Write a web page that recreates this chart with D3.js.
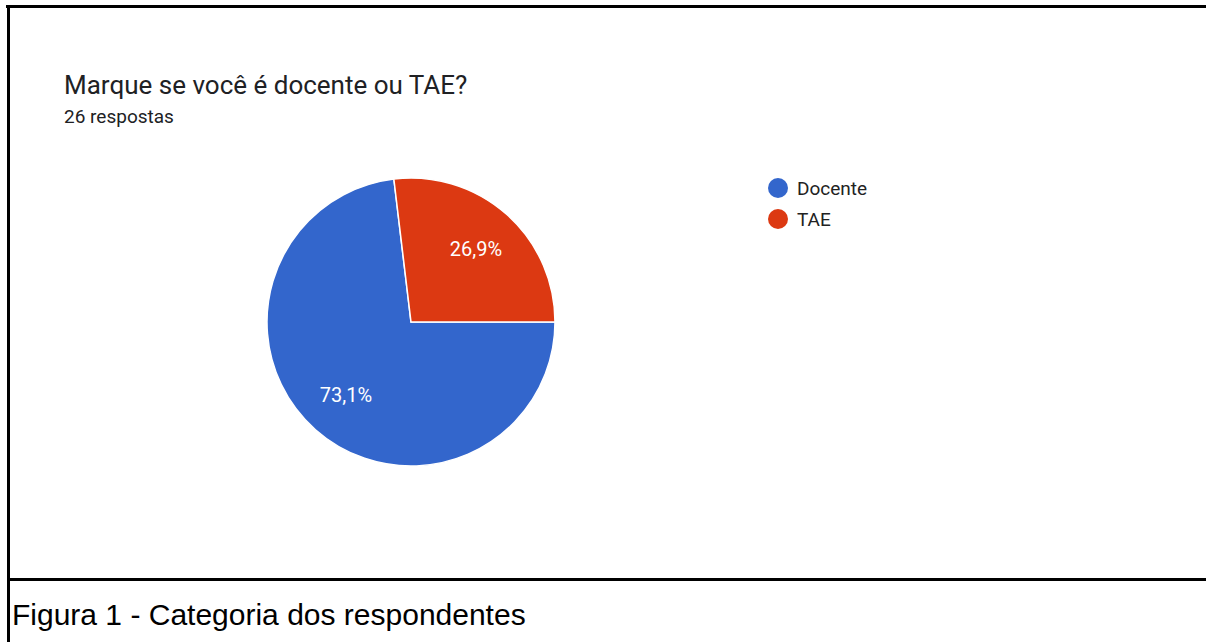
<!DOCTYPE html>
<html>
<head>
<meta charset="utf-8">
<script src="https://cdn.jsdelivr.net/npm/d3@7"></script>
<style>
  body { margin: 0; background: #fff; }
  svg { display: block; }
</style>
</head>
<body>
<svg width="1206" height="642"></svg>
<script>
// dados
var categorias = ["Docente", "TAE"];
var valores = [73.1, 26.9];
var rotulos = ["73,1%", "26,9%"];
var cores = ["#3366cc", "#dc3912"];

var svg = d3.select("svg");

// moldura
svg.append("line").attr("x1", 6).attr("x2", 1206).attr("y1", 6.5).attr("y2", 6.5)
    .attr("stroke", "#000").attr("stroke-width", 3);
svg.append("line").attr("x1", 8.5).attr("x2", 8.5).attr("y1", 5).attr("y2", 642)
    .attr("stroke", "#000").attr("stroke-width", 3);
svg.append("line").attr("x1", 7).attr("x2", 1206).attr("y1", 579.5).attr("y2", 579.5)
    .attr("stroke", "#000").attr("stroke-width", 3);

// titulo
svg.append("text")
    .attr("x", 64).attr("y", 94)
    .attr("font-family", "Roboto")
    .attr("font-size", 26)
    .attr("fill", "#202124")
    .text("Marque se você é docente ou TAE?");

svg.append("text")
    .attr("x", 64).attr("y", 123)
    .attr("font-family", "Roboto")
    .attr("font-size", 19)
    .attr("fill", "#202124")
    .text("26 respostas");

// pizza
var raio = 144;
var g = svg.append("g").attr("transform", "translate(411,322)");

var pie = d3.pie().sort(null)
    .startAngle(Math.PI / 2)
    .endAngle(Math.PI / 2 + 2 * Math.PI);

var arc = d3.arc().innerRadius(0).outerRadius(raio);
var arcLabel = d3.arc().innerRadius(raio * 0.68).outerRadius(raio * 0.68);

var arcs = pie(valores);

g.selectAll("path")
    .data(arcs)
    .enter().append("path")
    .attr("d", arc)
    .attr("fill", function (d, i) { return cores[i]; })
    .attr("stroke", "#fff")
    .attr("stroke-width", 1.5);

g.selectAll(".rotulo")
    .data(arcs)
    .enter().append("text")
    .attr("class", "rotulo")
    .attr("transform", function (d) { return "translate(" + arcLabel.centroid(d) + ")"; })
    .attr("text-anchor", "middle")
    .attr("dy", "0.35em")
    .attr("font-family", "Roboto")
    .attr("font-size", 20)
    .attr("fill", "#fff")
    .text(function (d, i) { return rotulos[i]; });

// legenda
var legenda = svg.append("g").attr("transform", "translate(778,188)");
var item = legenda.selectAll("g")
    .data(categorias)
    .enter().append("g")
    .attr("transform", function (d, i) { return "translate(0," + (i * 31) + ")"; });

item.append("circle").attr("r", 10)
    .attr("fill", function (d, i) { return cores[i]; });

item.append("text")
    .attr("x", 19).attr("dy", "0.35em")
    .attr("font-family", "Roboto")
    .attr("font-size", 19)
    .attr("fill", "#222")
    .text(function (d) { return d; });

// legenda da figura
svg.append("text")
    .attr("x", 12).attr("y", 625)
    .attr("font-family", "Liberation Sans")
    .attr("font-size", 30)
    .attr("fill", "#000")
    .text("Figura 1 - Categoria dos respondentes");
</script>
</body>
</html>
